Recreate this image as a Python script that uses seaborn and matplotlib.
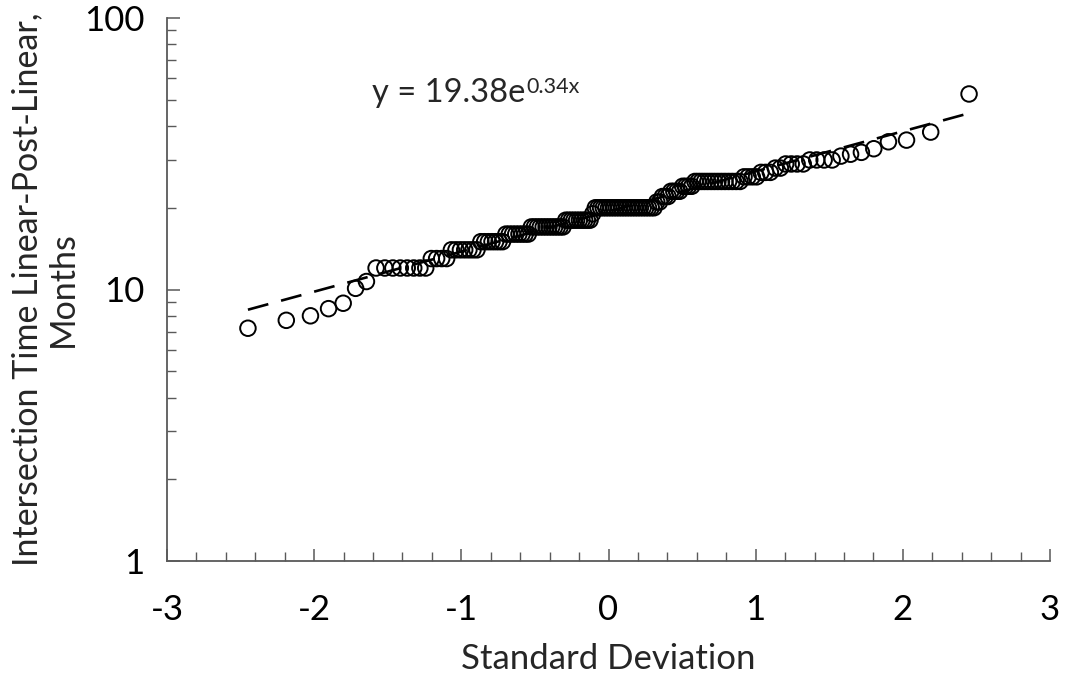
import numpy as np
import pandas as pd
import matplotlib
matplotlib.use("Agg")
import matplotlib.pyplot as plt
from matplotlib.ticker import FixedLocator, NullFormatter, FixedFormatter, LogLocator
import seaborn as sns
from statistics import NormalDist

# ---- data (sorted observed values, months) ----
month_values = [7.2, 7.7, 8.0, 8.5, 8.9, 10.1, 10.7, 12, 13, 14, 15, 16, 17, 18, 19, 20,
                21, 22, 23, 24, 25, 26, 27, 28, 29, 30, 31, 31.5, 32, 33, 35, 35.5, 38, 52.5]
month_counts = [1, 1, 1, 1, 1, 1, 1, 8, 4, 7, 7, 8, 12, 10, 1, 23,
                2, 3, 4, 4, 14, 4, 3, 2, 4, 4, 1, 1, 1, 1, 1, 1, 1, 1]
trend_a = 19.38
trend_b = 0.34
x_ticks = [-3, -2, -1, 0, 1, 2, 3]
y_ticks = [1, 10, 100]
equation_text = "y = 19.38e"
equation_exp = "0.34x"
x_label = "Standard Deviation"
y_label = "Intersection Time Linear-Post-Linear,\nMonths"

months = np.repeat(month_values, month_counts)
n = len(months)
nd = NormalDist()
std_dev = np.array([nd.inv_cdf(i / (n + 1)) for i in range(1, n + 1)])
df = pd.DataFrame({"sd": std_dev, "months": months})

trend_x = np.array([std_dev.min(), std_dev.max()])
trend_df = pd.DataFrame({"sd": trend_x, "fit": trend_a * np.exp(trend_b * trend_x)})

sns.set_theme(style="white")
plt.rcParams["font.family"] = ["Lato", "DejaVu Sans"]
plt.rcParams["axes.unicode_minus"] = False

fig = plt.figure(figsize=(10.71, 6.73), dpi=100)
ax = fig.add_axes([167 / 1071, 1 - 561 / 673, (1050 - 167) / 1071, (561 - 18) / 673])

sns.lineplot(data=trend_df, x="sd", y="fit", ax=ax, color="black", linewidth=1.9,
             linestyle=(0, (8, 5)), zorder=2)
sns.scatterplot(data=df, x="sd", y="months", ax=ax, marker="o", s=125,
                facecolor="none", edgecolor="black", linewidth=1.4, zorder=3)

ax.set_yscale("log")
ax.set_xlim(-3, 3)
ax.set_ylim(1, 100)

ax.xaxis.set_major_locator(FixedLocator(x_ticks))
ax.xaxis.set_major_formatter(FixedFormatter([str(t) for t in x_ticks]))
ax.xaxis.set_minor_locator(FixedLocator(np.arange(-3, 3.01, 0.2)))
ax.yaxis.set_major_locator(FixedLocator(y_ticks))
ax.yaxis.set_major_formatter(FixedFormatter([str(t) for t in y_ticks]))
ax.yaxis.set_minor_locator(LogLocator(base=10, subs=np.arange(2, 10)))
ax.yaxis.set_minor_formatter(NullFormatter())

spine_col = "#595959"
for s in ["top", "right"]:
    ax.spines[s].set_visible(False)
for s in ["left", "bottom"]:
    ax.spines[s].set_color(spine_col)
    ax.spines[s].set_linewidth(1.3)

ax.tick_params(axis="both", which="both", bottom=True, left=True, top=False, right=False)
ax.tick_params(axis="both", which="major", direction="in", length=9, width=1.1,
               color=spine_col, labelsize=25, labelcolor="black")
ax.tick_params(axis="both", which="minor", direction="in", length=6.5, width=1.0,
               color=spine_col)
ax.tick_params(axis="x", which="major", pad=24)
ax.tick_params(axis="y", which="major", pad=16)

ax.set_xlabel(x_label, fontsize=25, labelpad=12)
ax.set_ylabel(y_label, fontsize=24.5, labelpad=4, linespacing=1.15)

t1 = ax.text(0.232, 0.862, equation_text, transform=ax.transAxes, fontsize=23.5,
             ha="left", va="center")
fig.canvas.draw()
bb = t1.get_window_extent()
inv = ax.transAxes.inverted()
x_end = inv.transform((bb.x1, bb.y1))
ax.text(x_end[0] + 0.001, x_end[1] + 0.002, equation_exp, transform=ax.transAxes,
        fontsize=15.5, ha="left", va="top")

ax.set_facecolor("white")
fig.patch.set_facecolor("white")
fig.savefig("out.png", dpi=100, facecolor="white")
